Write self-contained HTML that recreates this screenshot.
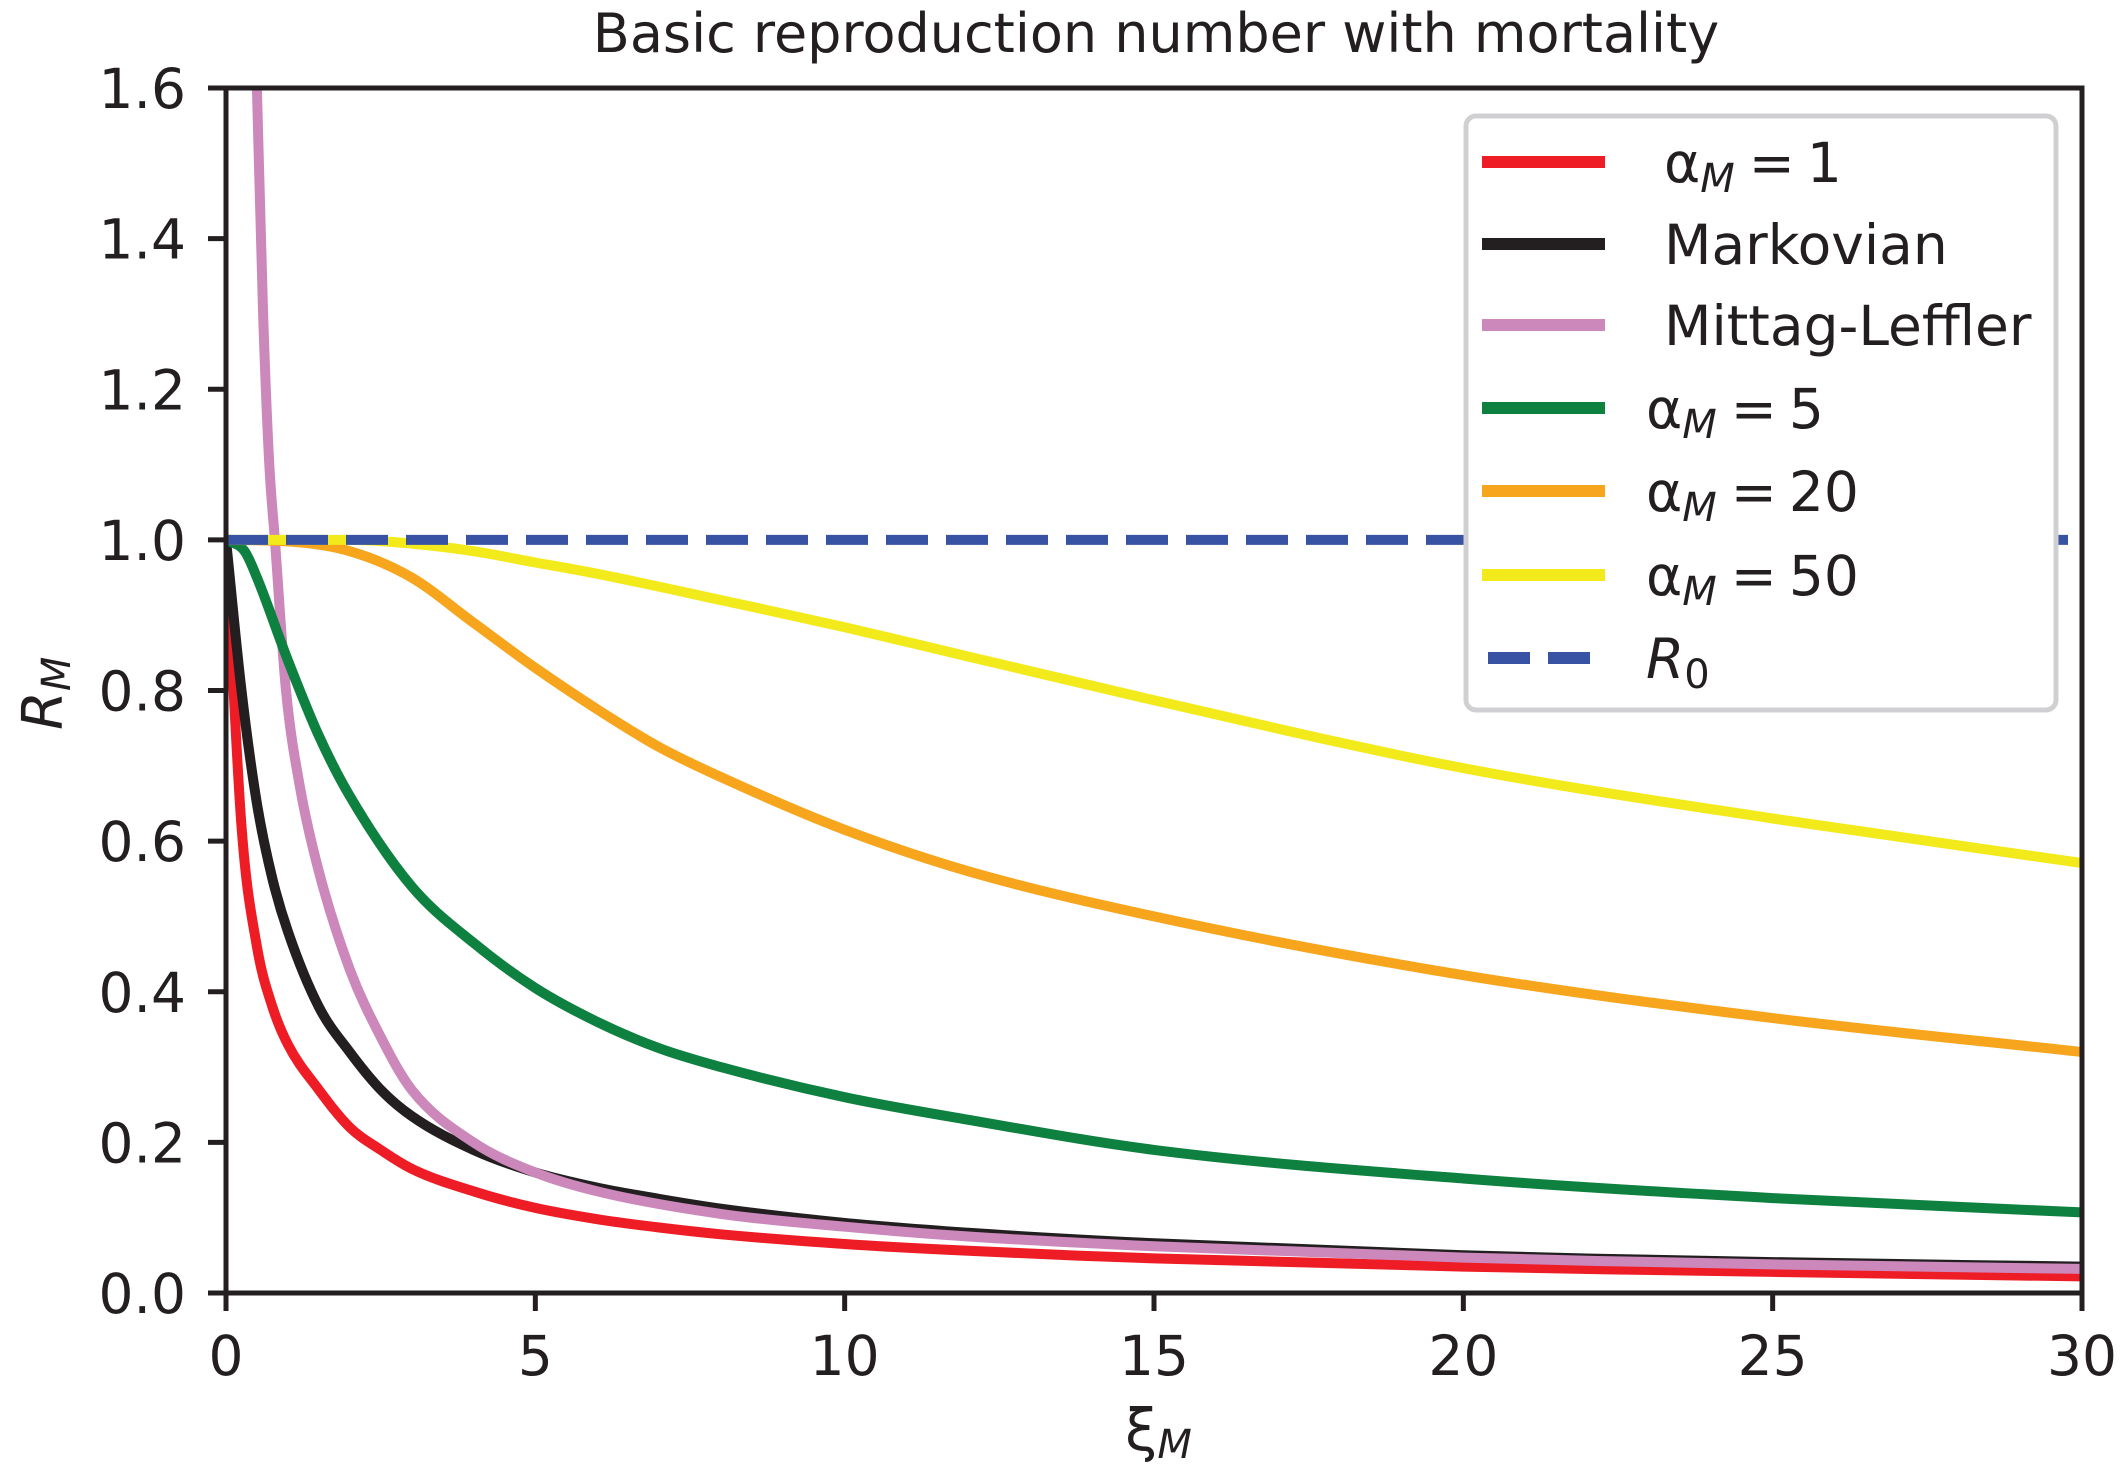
<!DOCTYPE html>
<html><head><meta charset="utf-8"><style>
html,body{margin:0;padding:0;background:#fff;}
svg{display:block;font-family:"DejaVu Sans","Liberation Sans",sans-serif;}
</style></head><body>
<svg id="chart" width="2127" height="1484" viewBox="0 0 2127 1484" xmlns="http://www.w3.org/2000/svg">
<rect width="2127" height="1484" fill="#fff"/>
<text x="1156" y="52" font-size="54" text-anchor="middle" fill="#231f20">Basic reproduction number with mortality</text>
<g id="series"></g>
<g id="axes"></g>
<text x="1125" y="1450" font-size="58" fill="#231f20">ξ<tspan font-size="40" font-style="italic" dy="8">M</tspan></text>
<text transform="translate(62,730) rotate(-90)" font-size="56" fill="#231f20"><tspan font-style="italic">R</tspan><tspan font-size="40" font-style="italic" dy="8">M</tspan></text>
<g id="legend"></g>
</svg>
<script>
const xRed = [0,0.25,0.5,0.75,1,1.5,2,2.5,3,4,5,6,7,8,10,12,15,20,25,30];
const yRed = [1.0,0.62,0.46,0.38,0.33,0.27,0.22,0.19,0.165,0.135,0.113,0.098,0.087,0.078,0.065,0.056,0.046,0.035,0.028,0.022];
const xBlack = [0,0.25,0.5,0.75,1,1.5,2,2.5,3,4,5,6,7,8,10,12,15,20,25,30];
const yBlack = [1.0,0.8,0.65,0.55,0.48,0.38,0.32,0.27,0.235,0.19,0.16,0.14,0.125,0.112,0.093,0.08,0.066,0.05,0.041,0.035];
const xPink = [0.5,0.6,0.7,0.79,0.97,1.2,1.5,2,2.5,3,4,5,6,8,10,12,15,20,25,30];
const yPink = [1.6,1.3,1.1,1.0,0.8,0.67,0.56,0.43,0.34,0.27,0.2,0.16,0.135,0.105,0.088,0.075,0.062,0.047,0.038,0.032];
const xGreen = [0,0.3,0.5,1,1.5,2,3,4,5,6,7,8,10,12,15,20,25,30];
const yGreen = [1.0,0.985,0.95,0.84,0.74,0.66,0.54,0.465,0.405,0.36,0.325,0.3,0.26,0.23,0.19,0.152,0.126,0.107];
const xOrange = [0,1,2,3,4,5,6,7,8,10,12,15,20,25,30];
const yOrange = [1.0,0.998,0.985,0.95,0.89,0.83,0.775,0.725,0.685,0.615,0.56,0.5,0.422,0.365,0.32];
const xYellow = [0,2,3,4,5,6,8,10,12,15,20,25,30];
const yYellow = [1.0,1.0,0.995,0.985,0.97,0.955,0.92,0.884,0.845,0.787,0.697,0.63,0.571];
const r0Value = [1.0];
const xTicks = [0,5,10,15,20,25,30];
const yTicks = [0.0,0.2,0.4,0.6,0.8,1.0,1.2,1.4,1.6];
const legendLabels = ["α_M = 1","Markovian","Mittag-Leffler","α_M = 5","α_M = 20","α_M = 50","R_0"];

const NS="http://www.w3.org/2000/svg";
const L=226,R=2082,T=88,B=1293;
function sx(v){return L+(v-0)/30*(R-L);}
function sy(v){return B-(v-0)/1.6*(B-T);}
function mk(tag,attrs,parent){const e=document.createElementNS(NS,tag);for(const k in attrs)e.setAttribute(k,attrs[k]);parent.appendChild(e);return e;}
const series=document.getElementById('series');
const defs=mk('defs',{},series);
const cp=mk('clipPath',{id:'plotclip'},defs);
mk('rect',{x:L,y:T,width:R-L,height:B-T},cp);
const gS=mk('g',{'clip-path':'url(#plotclip)'},series);
function smoothPath(xs,ys){
  const n=xs.length;const X=xs.map(sx),Y=ys.map(sy);
  if(n<3){return 'M'+X[0]+','+Y[0]+'L'+X[1]+','+Y[1];}
  const d=[],m=[];
  for(let i=0;i<n-1;i++)d.push((Y[i+1]-Y[i])/(X[i+1]-X[i]));
  m[0]=d[0];m[n-1]=d[n-2];
  for(let i=1;i<n-1;i++){m[i]=(d[i-1]*d[i]<=0)?0:(d[i-1]+d[i])/2;}
  for(let i=0;i<n-1;i++){
    if(d[i]===0){m[i]=0;m[i+1]=0;continue;}
    const a=m[i]/d[i],b=m[i+1]/d[i],s=a*a+b*b;
    if(s>9){const t=3/Math.sqrt(s);m[i]=t*a*d[i];m[i+1]=t*b*d[i];}
  }
  let p='M'+X[0].toFixed(1)+','+Y[0].toFixed(1);
  for(let i=0;i<n-1;i++){
    const h=(X[i+1]-X[i])/3;
    p+='C'+(X[i]+h).toFixed(1)+','+(Y[i]+m[i]*h).toFixed(1)+' '+(X[i+1]-h).toFixed(1)+','+(Y[i+1]-m[i+1]*h).toFixed(1)+' '+X[i+1].toFixed(1)+','+Y[i+1].toFixed(1);
  }
  return p;
}
function line(xs,ys,color,name,dash){
  const p=mk('path',{d:smoothPath(xs,ys),fill:'none',stroke:color,'stroke-width':10,'stroke-linejoin':'round'},gS);
  if(dash)p.setAttribute('stroke-dasharray',dash);
  
  
}
const colors=['#ee1c25','#231f20','#cc88bb','#0e8040','#f7a51c','#f2ea1a','#3853a4'];
line(xRed,yRed,colors[0],'line-alpha-1');
line(xBlack,yBlack,colors[1],'line-markovian');
line(xPink,yPink,colors[2],'line-mittag-leffler');
line(xGreen,yGreen,colors[3],'line-alpha-5');
line(xOrange,yOrange,colors[4],'line-alpha-20');
line(xYellow,yYellow,colors[5],'line-alpha-50');
line([0,30],[r0Value[0],r0Value[0]],colors[6],'line-r0','42,18');

const axes=document.getElementById('axes');
const frame=mk('rect',{x:L,y:T,width:R-L,height:B-T,fill:'none',stroke:'#231f20','stroke-width':5},axes);


xTicks.forEach(v=>{
  const t=mk('line',{x1:sx(v),x2:sx(v),y1:B,y2:B+18,stroke:'#231f20','stroke-width':5},axes);
  
  
  const tx=mk('text',{x:sx(v),y:B+82,'font-size':55,'text-anchor':'middle',fill:'#231f20'},axes);
  tx.textContent=String(v);
  
  
});
yTicks.forEach(v=>{
  const t=mk('line',{x1:L-18,x2:L,y1:sy(v),y2:sy(v),stroke:'#231f20','stroke-width':5},axes);
  
  
  const tx=mk('text',{x:186,y:sy(v)+20,'font-size':55,'text-anchor':'end',fill:'#231f20'},axes);
  tx.textContent=v.toFixed(1);
  
  
});

const lg=document.getElementById('legend');
const box=mk('rect',{x:1466,y:116,width:590,height:594,rx:10,fill:'#fff',stroke:'#d0d0d2','stroke-width':5},lg);


const rowY=[162,244,325,408,491,575,658];
const textX=[1664,1664,1664,1646,1646,1646,1646];
legendLabels.forEach((lab,i)=>{
  const ln=mk('line',{x1:1482,x2:1605,y1:rowY[i],y2:rowY[i],stroke:colors[i],'stroke-width':12},lg);
  if(i===6){ln.setAttribute('x1',1488);ln.setAttribute('x2',1590);ln.setAttribute('stroke-dasharray','42,18');}
  
  
  const tx=mk('text',{x:textX[i],y:rowY[i]+20,'font-size':55,fill:'#231f20'},lg);
  
  
  if(lab.startsWith('α_M')){
    const parts=lab.split(' = ');
    mk('tspan',{},tx).textContent='α';
    const s=mk('tspan',{'font-size':40,'font-style':'italic',dy:10},tx);s.textContent='M';
    const r=mk('tspan',{dy:-10,dx:14},tx);r.textContent='=';
    const r2=mk('tspan',{dx:12},tx);r2.textContent=parts[1];
  } else if(lab==='R_0'){
    const a=mk('tspan',{'font-style':'italic'},tx);a.textContent='R';
    const s=mk('tspan',{'font-size':40,dy:10},tx);s.textContent='0';
  } else tx.textContent=lab;
});
</script>
</body></html>
